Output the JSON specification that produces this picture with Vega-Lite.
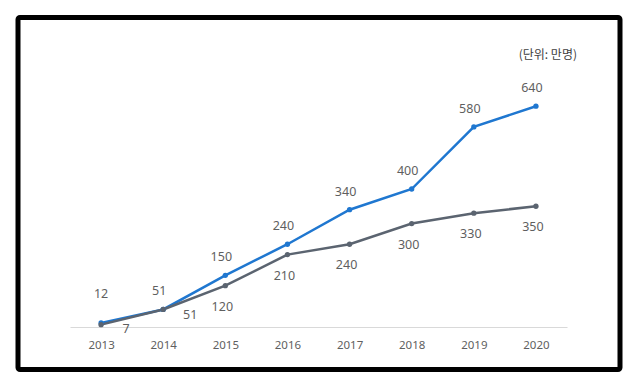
{
  "$schema": "https://vega.github.io/schema/vega-lite/v6.json",
  "width": 602,
  "height": 352,
  "autosize": {"type": "none"},
  "padding": {"left": 18, "top": 17.5, "right": 18, "bottom": 19.5},
  "background": "white",
  "title": {
    "text": "(단위: 만명)",
    "anchor": "end",
    "orient": "top",
    "offset": -56,
    "dx": -43,
    "fontSize": 12,
    "font": "Noto Sans CJK KR",
    "fontWeight": "normal",
    "color": "#404040",
    "baseline": "bottom"
  },
  "config": {
    "view": {"stroke": "#000000", "strokeWidth": 5, "fill": "white", "cornerRadius": 2},
    "text": {"font": "Noto Sans", "fontSize": 12.5, "fill": "#5f5f5f"}
  },
  "data": {
    "values": [
      {"year": "2013", "series": "blue", "value": 12},
      {"year": "2014", "series": "blue", "value": 51},
      {"year": "2015", "series": "blue", "value": 150},
      {"year": "2016", "series": "blue", "value": 240},
      {"year": "2017", "series": "blue", "value": 340},
      {"year": "2018", "series": "blue", "value": 400},
      {"year": "2019", "series": "blue", "value": 580},
      {"year": "2020", "series": "blue", "value": 640},
      {"year": "2013", "series": "gray", "value": 7},
      {"year": "2014", "series": "gray", "value": 51},
      {"year": "2015", "series": "gray", "value": 120},
      {"year": "2016", "series": "gray", "value": 210},
      {"year": "2017", "series": "gray", "value": 240},
      {"year": "2018", "series": "gray", "value": 300},
      {"year": "2019", "series": "gray", "value": 330},
      {"year": "2020", "series": "gray", "value": 350}
    ]
  },
  "encoding": {
    "x": {
      "field": "year",
      "type": "ordinal",
      "scale": {"type": "point", "range": [52, 549], "padding": 0.5},
      "axis": {
        "title": null,
        "labelAngle": 0,
        "domainColor": "#d9d9d9",
        "domainWidth": 1,
        "ticks": false,
        "labelColor": "#5f5f5f",
        "labelFontSize": 11.5,
        "labelFont": "Noto Sans",
        "labelPadding": 12,
        "offset": -42.5,
        "grid": false
      }
    },
    "y": {
      "field": "value",
      "type": "quantitative",
      "scale": {"domain": [-123, 897], "nice": false, "zero": false},
      "axis": null
    }
  },
  "layer": [
    {
      "mark": {"type": "line", "strokeWidth": 2.5},
      "encoding": {
        "color": {
          "field": "series",
          "type": "nominal",
          "scale": {"domain": ["gray", "blue"], "range": ["#5b6470", "#1f77d0"]},
          "legend": null
        },
        "order": {"field": "year"}
      }
    },
    {
      "mark": {"type": "circle", "size": 28, "opacity": 1},
      "encoding": {
        "color": {
          "field": "series",
          "type": "nominal",
          "scale": {"domain": ["gray", "blue"], "range": ["#5b6470", "#1f77d0"]},
          "legend": null
        }
      }
    },
    {
      "transform": [{"filter": "datum.series == 'blue' && datum.year != '2013'"}],
      "mark": {"type": "text", "dy": -18, "dx": -4},
      "encoding": {"text": {"field": "value", "type": "quantitative"}}
    },
    {
      "transform": [{"filter": "datum.series == 'blue' && datum.year == '2013'"}],
      "mark": {"type": "text", "dy": -29},
      "encoding": {"text": {"field": "value", "type": "quantitative"}}
    },
    {
      "transform": [{"filter": "datum.series == 'gray' && datum.year != '2013' && datum.year != '2014'"}],
      "mark": {"type": "text", "dy": 21, "dx": -3},
      "encoding": {"text": {"field": "value", "type": "quantitative"}}
    },
    {
      "transform": [{"filter": "datum.series == 'gray' && datum.year == '2013'"}],
      "mark": {"type": "text", "dy": 4, "dx": 25},
      "encoding": {"text": {"field": "value", "type": "quantitative"}}
    },
    {
      "transform": [{"filter": "datum.series == 'gray' && datum.year == '2014'"}],
      "mark": {"type": "text", "dy": 6, "dx": 27},
      "encoding": {"text": {"field": "value", "type": "quantitative"}}
    }
  ]
}
